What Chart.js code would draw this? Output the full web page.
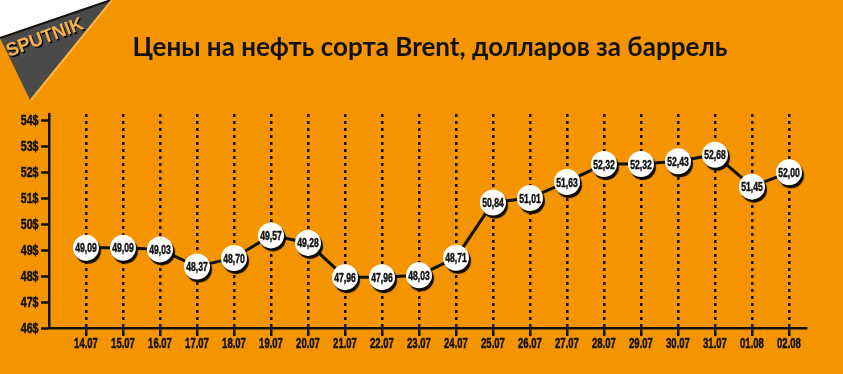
<!DOCTYPE html>
<html>
<head>
<meta charset="utf-8">
<script src="https://cdn.jsdelivr.net/npm/chart.js@4"></script>
<style>
    html, body { margin: 0; padding: 0; background: #f49500; }
    #wrap { width: 843px; height: 374px; position: relative; }
</style>
</head>
<body>
<div id="wrap"><canvas id="myChart"></canvas></div>
<script>
// Data - Brent price per day
const dates = ['14.07', '15.07', '16.07', '17.07', '18.07', '19.07', '20.07', '21.07', '22.07', '23.07',
               '24.07', '25.07', '26.07', '27.07', '28.07', '29.07', '30.07', '31.07', '01.08', '02.08'];
const prices = [49.09, 49.09, 49.03, 48.37, 48.70, 49.57, 49.28, 47.96, 47.96, 48.03,
                48.71, 50.84, 51.01, 51.63, 52.32, 52.32, 52.43, 52.68, 51.45, 52.00];
const yMin = 46;
const yMax = 54;
const title = 'Цены на нефть сорта Brent, долларов за баррель';

const ink = '#111111';

const points = prices.map((v, i) => ({x: i, y: v}));

// draw condensed text (no condensed font installed -> squash Liberation Sans)
function narrowText(ctx, text, x, y, size, align, squeeze) {
    ctx.save();
    ctx.translate(x, y);
    ctx.scale(squeeze, 1);
    ctx.font = 'bold ' + size + 'px "Liberation Sans", Arial, sans-serif';
    ctx.textAlign = align;
    ctx.textBaseline = 'middle';
    ctx.strokeStyle = ctx.fillStyle;
    ctx.lineWidth = 0.5;
    ctx.fillText(text, 0, 0);
    ctx.strokeText(text, 0, 0);
    ctx.restore();
}

// background, logo and title
const decor = {
    id: 'decor',
    beforeDraw(chart) {
        const ctx = chart.ctx;
        ctx.save();
        ctx.fillStyle = '#f49500';
        ctx.fillRect(0, 0, chart.width, chart.height);

        // white corner
        ctx.fillStyle = '#ffffff';
        ctx.beginPath();
        ctx.moveTo(0, 0); ctx.lineTo(111, 0); ctx.lineTo(0, 37); ctx.closePath();
        ctx.fill();

        // gray banner
        ctx.fillStyle = '#4a4a4a';
        ctx.beginPath();
        ctx.moveTo(0, 38); ctx.lineTo(111, 0); ctx.lineTo(30, 100); ctx.closePath();
        ctx.fill();
        ctx.strokeStyle = '#111';
        ctx.lineWidth = 2;
        ctx.beginPath(); ctx.moveTo(0, 38); ctx.lineTo(111, 0); ctx.stroke();
        ctx.strokeStyle = '#f8b347';
        ctx.beginPath(); ctx.moveTo(112, 0); ctx.lineTo(31, 100); ctx.stroke();

        // SPUTNIK text
        ctx.translate(9, 57);
        ctx.rotate(-0.36);
        ctx.font = 'bold 19px "Liberation Sans", sans-serif';
        ctx.shadowColor = 'rgba(0,0,0,0.9)';
        ctx.shadowOffsetX = 1.5;
        ctx.shadowOffsetY = 1.5;
        ctx.fillStyle = '#f7b04a';
        ctx.scale(0.97, 1);
        ctx.fillText('SPUTNIK', 0, 0);
        ctx.restore();

        // title
        ctx.save();
        ctx.font = 'bold 26px Lato, "Open Sans", sans-serif';
        ctx.fillStyle = ink;
        ctx.textAlign = 'center';
        ctx.textBaseline = 'middle';
        ctx.fillText(title, 430, 48);
        ctx.restore();
    },
    afterDraw(chart) {
        // axis labels, condensed
        const ctx = chart.ctx;
        const xs = chart.scales.x;
        const ys = chart.scales.y;
        ctx.save();
        ctx.fillStyle = ink;
        xs.ticks.forEach(t => {
            narrowText(ctx, dates[t.value], xs.getPixelForValue(t.value), 344.5, 14, 'center', 0.68);
        });
        ys.ticks.forEach(t => {
            narrowText(ctx, t.value + '$', 38.5, ys.getPixelForValue(t.value) + 1, 14, 'right', 0.76);
        });
        ctx.restore();
    }
};

// shadow under the white circles
const pointShadow = {
    id: 'pointShadow',
    beforeDatasetDraw(chart, args) {
        if (args.index !== 1) return;
        const ctx = chart.ctx;
        ctx.save();
        ctx.shadowColor = 'rgba(0,0,0,0.95)';
        ctx.shadowOffsetX = 2;
        ctx.shadowOffsetY = 3;
        ctx.shadowBlur = 1;
    },
    afterDatasetDraw(chart, args) {
        if (args.index !== 1) return;
        chart.ctx.restore();
    }
};

// values inside circles
const valueLabels = {
    id: 'valueLabels',
    afterDatasetsDraw(chart) {
        const ctx = chart.ctx;
        const meta = chart.getDatasetMeta(1);
        ctx.save();
        ctx.fillStyle = ink;
        meta.data.forEach((pt, i) => {
            narrowText(ctx, prices[i].toFixed(2).replace('.', ','), pt.x, pt.y + 1, 13, 'center', 0.66);
        });
        ctx.restore();
    }
};

new Chart(document.getElementById('myChart'), {
    type: 'line',
    data: {
        datasets: [
            {
                data: points,
                borderColor: ink,
                borderWidth: 3,
                pointRadius: 0,
                order: 1
            },
            {
                data: points,
                showLine: false,
                pointRadius: 13,
                pointHoverRadius: 13,
                pointBackgroundColor: '#ffffff',
                pointBorderWidth: 0,
                order: 0
            }
        ]
    },
    options: {
        responsive: true,
        maintainAspectRatio: false,
        animation: false,
        layout: {padding: {top: 114, left: 0, right: 37, bottom: 0}},
        plugins: {
            legend: {display: false},
            title: {display: false},
            tooltip: {enabled: false}
        },
        scales: {
            x: {
                type: 'linear',
                min: -1,
                max: 19.46,
                afterBuildTicks: scale => { scale.ticks = dates.map((d, i) => ({value: i})); },
                afterFit: scale => { scale.height = 46; },
                ticks: {display: false},
                grid: {
                    color: ink,
                    lineWidth: 2.5,
                    tickBorderDash: [],
                    tickLength: 8,
                    tickWidth: 2.5,
                    tickColor: ink
                },
                border: {color: ink, width: 2.5, dash: [3, 4]}
            },
            y: {
                min: yMin,
                max: yMax + 0.25,
                afterBuildTicks: scale => {
                    const t = [];
                    for (let v = yMin; v <= yMax; v++) t.push({value: v});
                    scale.ticks = t;
                },
                afterFit: scale => { scale.width = 49; },
                ticks: {display: false},
                grid: {
                    drawOnChartArea: false,
                    tickLength: 8,
                    tickWidth: 2.5,
                    tickColor: ink
                },
                border: {color: ink, width: 2.5}
            }
        }
    },
    plugins: [decor, pointShadow, valueLabels]
});
</script>
</body>
</html>
